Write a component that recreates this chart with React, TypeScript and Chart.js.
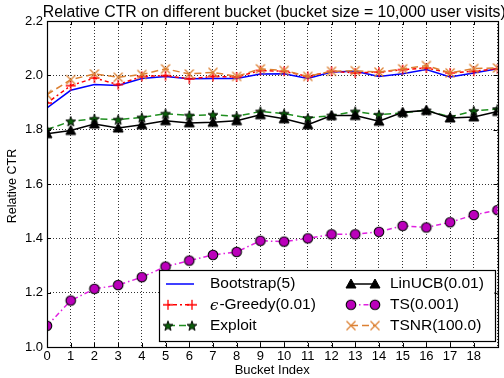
import React, { useEffect, useRef } from 'react';
import { Chart, registerables } from 'chart.js';

Chart.register(...registerables);

const buckets = [0, 1, 2, 3, 4, 5, 6, 7, 8, 9, 10, 11, 12, 13, 14, 15, 16, 17, 18, 19];
const xTickLabels = ['0', '1', '2', '3', '4', '5', '6', '7', '8', '9', '10', '11', '12', '13', '14', '15', '16', '17', '18'];
const yTickValues = [1.0, 1.2, 1.4, 1.6, 1.8, 2.0, 2.2];

const bootstrap = [1.880, 1.945, 1.966, 1.963, 1.988, 1.996, 1.987, 1.988, 1.988, 2.005, 2.006, 1.988, 2.012, 2.015, 1.996, 2.006, 2.021, 1.994, 2.009, 2.024];
const greedy = [1.898, 1.962, 1.990, 1.966, 1.996, 1.999, 1.987, 1.996, 1.994, 2.018, 2.015, 1.996, 2.015, 2.009, 2.012, 2.021, 2.027, 2.009, 2.015, 2.024];
const exploit = [1.800, 1.831, 1.840, 1.837, 1.845, 1.859, 1.852, 1.855, 1.849, 1.867, 1.859, 1.843, 1.852, 1.867, 1.855, 1.862, 1.871, 1.847, 1.869, 1.876];
const linucb = [1.785, 1.797, 1.821, 1.806, 1.818, 1.833, 1.825, 1.827, 1.833, 1.855, 1.840, 1.818, 1.852, 1.852, 1.831, 1.864, 1.871, 1.843, 1.847, 1.867];
const ts = [1.078, 1.171, 1.214, 1.228, 1.257, 1.296, 1.318, 1.339, 1.350, 1.391, 1.388, 1.400, 1.415, 1.415, 1.424, 1.446, 1.440, 1.459, 1.486, 1.504];
const tsnr = [1.929, 1.984, 2.005, 1.993, 2.003, 2.024, 2.005, 2.011, 1.996, 2.024, 2.018, 1.996, 2.015, 2.017, 2.012, 2.024, 2.036, 2.009, 2.025, 2.027];

const titleText = 'Relative CTR on different bucket (bucket size = 10,000 user visits)';
const xTitle = 'Bucket Index';
const yTitle = 'Relative CTR';

const FONT = '"Liberation Sans", Arial, sans-serif';

type MarkerKind = 'none' | 'plus' | 'star' | 'triangle' | 'circle' | 'x';

function makeMarker(kind: MarkerKind, color: string): HTMLCanvasElement | false {
  if (kind === 'none') return false;
  const s = 16;
  const c = document.createElement('canvas');
  c.width = s;
  c.height = s;
  const g = c.getContext('2d')!;
  const m = s / 2;
  g.lineJoin = 'miter';
  if (kind === 'plus') {
    g.strokeStyle = color;
    g.lineWidth = 1.3;
    g.beginPath();
    g.moveTo(m - 5, m); g.lineTo(m + 5, m);
    g.moveTo(m, m - 5); g.lineTo(m, m + 5);
    g.stroke();
  } else if (kind === 'x') {
    g.strokeStyle = color;
    g.lineWidth = 1.3;
    g.beginPath();
    g.moveTo(m - 4.5, m - 4.5); g.lineTo(m + 4.5, m + 4.5);
    g.moveTo(m + 4.5, m - 4.5); g.lineTo(m - 4.5, m + 4.5);
    g.stroke();
  } else if (kind === 'star') {
    g.fillStyle = color;
    g.strokeStyle = '#000';
    g.lineWidth = 0.9;
    g.beginPath();
    for (let i = 0; i < 10; i++) {
      const r = i % 2 === 0 ? 5.2 : 2.2;
      const a = -Math.PI / 2 + (i * Math.PI) / 5;
      const px = m + r * Math.cos(a);
      const py = m + 0.5 + r * Math.sin(a);
      if (i === 0) g.moveTo(px, py); else g.lineTo(px, py);
    }
    g.closePath();
    g.fill();
    g.stroke();
  } else if (kind === 'triangle') {
    g.fillStyle = color;
    g.strokeStyle = color;
    g.lineWidth = 1;
    g.beginPath();
    g.moveTo(m, m - 5);
    g.lineTo(m + 5, m + 4);
    g.lineTo(m - 5, m + 4);
    g.closePath();
    g.fill();
    g.stroke();
  } else if (kind === 'circle') {
    g.fillStyle = color;
    g.strokeStyle = '#000';
    g.lineWidth = 1.1;
    g.beginPath();
    g.arc(m, m, 4.8, 0, Math.PI * 2);
    g.fill();
    g.stroke();
  }
  return c;
}

interface SeriesDef {
  label: string;
  values: number[];
  color: string;
  dash: number[];
  marker: MarkerKind;
  markerColor: string;
}

const series: SeriesDef[] = [
  { label: 'Bootstrap(5)', values: bootstrap, color: '#0000ff', dash: [], marker: 'none', markerColor: '#0000ff' },
  { label: '-Greedy(0.01)', values: greedy, color: '#ff0000', dash: [2, 3, 4, 3], marker: 'plus', markerColor: '#ff0000' },
  { label: 'Exploit', values: exploit, color: '#1f8f1f', dash: [7, 4], marker: 'star', markerColor: '#0b5e0b' },
  { label: 'LinUCB(0.01)', values: linucb, color: '#000000', dash: [], marker: 'triangle', markerColor: '#000000' },
  { label: 'TS(0.001)', values: ts, color: '#e020e0', dash: [5, 3, 1.5, 3], marker: 'circle', markerColor: '#bb00bb' },
  { label: 'TSNR(100.0)', values: tsnr, color: '#dc8032', dash: [7, 4], marker: 'x', markerColor: '#dc8032' },
];

export default function App() {
  const ref = useRef<HTMLCanvasElement | null>(null);

  useEffect(() => {
    document.body.style.margin = '0';
    const canvas = ref.current;
    if (!canvas) return;

    const markers = series.map((s) => makeMarker(s.marker, s.markerColor));

    const decorPlugin = {
      id: 'decor',
      afterDatasetsDraw(chart: any) {
        const { ctx, chartArea: a, scales } = chart;
        ctx.save();
        ctx.strokeStyle = '#000';
        ctx.lineWidth = 1;
        ctx.setLineDash([]);
        ctx.beginPath();
        buckets.forEach((b) => {
          const x = Math.round(scales.x.getPixelForValue(b)) + 0.5;
          ctx.moveTo(x, a.bottom); ctx.lineTo(x, a.bottom - 4);
          ctx.moveTo(x, a.top); ctx.lineTo(x, a.top + 4);
        });
        yTickValues.forEach((v) => {
          const y = Math.round(scales.y.getPixelForValue(v)) + 0.5;
          ctx.moveTo(a.left, y); ctx.lineTo(a.left + 4, y);
          ctx.moveTo(a.right, y); ctx.lineTo(a.right - 4, y);
        });
        ctx.stroke();
        ctx.lineWidth = 1.2;
        ctx.strokeRect(Math.round(a.left) + 0.5, Math.round(a.top) + 0.5, Math.round(a.right - a.left), Math.round(a.bottom - a.top));
        ctx.restore();
      },
      afterDraw(chart: any) {
        const { ctx, chartArea: a } = chart;
        ctx.save();
        ctx.fillStyle = '#000';
        ctx.font = `15.8px ${FONT}`;
        ctx.textAlign = 'center';
        ctx.textBaseline = 'alphabetic';
        ctx.fillText(titleText, (a.left + a.right) / 2 + 2, a.top - 4);
        ctx.font = `13px ${FONT}`;
        ctx.textBaseline = 'middle';
        ctx.fillText(xTitle, (a.left + a.right) / 2, a.bottom + 23);
        ctx.save();
        ctx.translate(13, (a.top + a.bottom) / 2 + 2);
        ctx.rotate(-Math.PI / 2);
        ctx.font = `12.5px ${FONT}`;
        ctx.fillText(yTitle, 0, 0);
        ctx.restore();

        const bx = a.left + 112;
        const by = a.bottom - 77;
        const bw = a.right - 3 - bx;
        const bh = 71;
        ctx.fillStyle = '#fff';
        ctx.fillRect(bx, by, bw, bh);
        ctx.strokeStyle = '#000';
        ctx.lineWidth = 1.2;
        ctx.setLineDash([]);
        ctx.strokeRect(Math.round(bx) + 0.5, Math.round(by) + 0.5, Math.round(bw), bh);

        const colSym = [bx + 9, bx + 192];
        const colTxt = [bx + 51, bx + 231];
        series.forEach((s, i) => {
          const col = i < 3 ? 0 : 1;
          const row = i % 3;
          const y = by + 14 + row * 20.8;
          const x1 = colSym[col];
          const x2 = x1 + 24;
          ctx.strokeStyle = s.color;
          ctx.lineWidth = 1.5;
          ctx.setLineDash(s.dash);
          ctx.beginPath();
          ctx.moveTo(s.marker === 'none' ? x1 - 2 : x1, y);
          ctx.lineTo(s.marker === 'none' ? x2 + 2 : x2, y);
          ctx.stroke();
          ctx.setLineDash([]);
          const mk = markers[i];
          if (mk) {
            ctx.drawImage(mk, x1 - mk.width / 2, y - mk.height / 2);
            ctx.drawImage(mk, x2 - mk.width / 2, y - mk.height / 2);
          }
          ctx.fillStyle = '#000';
          ctx.textAlign = 'left';
          ctx.textBaseline = 'middle';
          let tx = colTxt[col];
          if (i === 1) {
            ctx.font = `italic 15px "DejaVu Serif", serif`;
            ctx.fillText('\u03F5', tx, y + 1);
            tx += ctx.measureText('\u03F5').width + 1;
          }
          ctx.font = `15.5px ${FONT}`;
          ctx.fillText(s.label, tx, y);
        });
        ctx.restore();
      },
    };

    const chart = new Chart(canvas, {
      type: 'line',
      data: {
        datasets: series.map((s, i) => ({
          label: s.label,
          data: s.values.map((v, k) => ({ x: buckets[k], y: v })),
          borderColor: s.color,
          backgroundColor: s.color,
          borderWidth: 1.5,
          borderDash: s.dash,
          pointStyle: markers[i] as any,
          pointRadius: s.marker === 'none' ? 0 : 5,
          pointHoverRadius: s.marker === 'none' ? 0 : 5,
          tension: 0,
          fill: false,
          clip: 0,
          order: series.length - i,
        })),
      },
      options: {
        responsive: false,
        animation: false,
        events: [],
        layout: { padding: { top: 21, right: 4, left: 0, bottom: 0 } },
        plugins: {
          legend: { display: false },
          title: { display: false },
          tooltip: { enabled: false },
        },
        scales: {
          x: {
            type: 'linear',
            min: 0,
            max: 19,
            afterFit: (sc: any) => { sc.height = 31; },
            afterBuildTicks: (sc: any) => { sc.ticks = buckets.map((b) => ({ value: b })); },
            ticks: {
              autoSkip: false,
              maxRotation: 0,
              padding: 2,
              color: '#000',
              font: { family: FONT, size: 13 },
              callback: (v: any) => (xTickLabels[Number(v)] !== undefined ? xTickLabels[Number(v)] : ''),
            },
            grid: { color: '#333', lineWidth: 1, drawTicks: false },
            border: { display: false, dash: [1, 2] },
          },
          y: {
            type: 'linear',
            min: 1.0,
            max: 2.2,
            afterFit: (sc: any) => { sc.width = 47; },
            afterBuildTicks: (sc: any) => { sc.ticks = yTickValues.map((v) => ({ value: v })); },
            ticks: {
              padding: 4,
              color: '#000',
              font: { family: FONT, size: 13 },
              callback: (v: any) => Number(v).toFixed(1),
            },
            grid: { color: '#333', lineWidth: 1, drawTicks: false },
            border: { display: false, dash: [1, 2] },
          },
        },
      },
      plugins: [decorPlugin],
    } as any);

    return () => chart.destroy();
  }, []);

  return (
    <div style={{ width: 504, height: 378, background: '#fff' }}>
      <canvas ref={ref} width={504} height={378} style={{ display: 'block' }} />
    </div>
  );
}
